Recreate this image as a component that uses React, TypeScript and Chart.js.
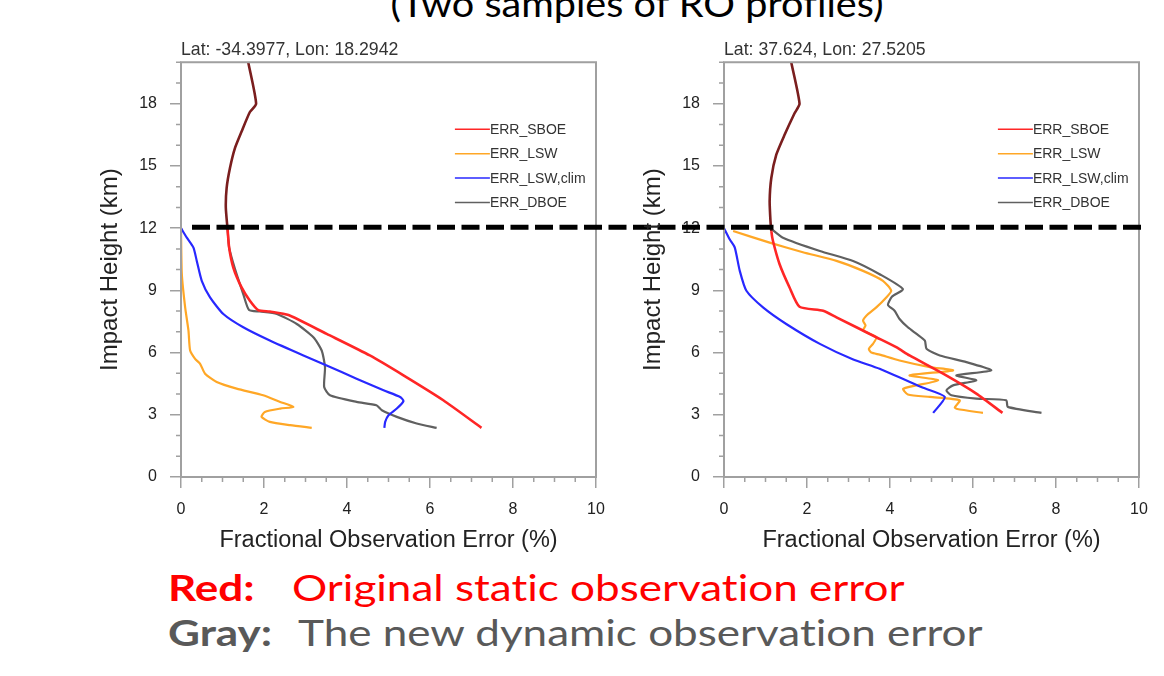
import { useEffect, useRef } from 'react';
import { Chart, registerables } from 'chart.js';

Chart.register(...registerables);

type P = [number, number];

// ---------- data ----------
const SERIES_LABELS = ['ERR_SBOE', 'ERR_LSW', 'ERR_LSW,clim', 'ERR_DBOE'];
const SERIES_COLORS = ['#ff2626', '#ffa726', '#2828ff', '#606060'];
const UPPER_COLOR = '#7a1e1e';
const PROFILE_TITLES = ['Lat: -34.3977, Lon: 18.2942', 'Lat: 37.624, Lon: 27.5205'];
const X_AXIS_TITLE = 'Fractional Observation Error (%)';
const Y_AXIS_TITLE = 'Impact Height (km)';
const X_MIN = 0, X_MAX = 10, X_MAJOR = 2, X_MINOR = 0.5;
const Y_MIN = 0, Y_MAX = 20, Y_MAJOR = 3, Y_MINOR = 1;
const THRESHOLD_KM = 12;

// left profile (Lat -34.3977)
const L_SBOE: P[] = [[1.62, 20], [1.81, 18], [1.66, 17.6], [1.46, 16.66], [1.30, 15.86], [1.18, 14.9], [1.10, 13.94], [1.08, 12.98], [1.12, 12.0], [1.16, 11.06], [1.26, 10.1], [1.46, 9.14], [1.66, 8.5], [1.86, 8.05], [2.14, 7.98], [2.59, 7.81], [3.51, 6.9], [4.55, 5.86], [5.36, 4.9], [6.32, 3.7], [7.24, 2.37]];
const L_LSW: P[] = [[0, 12], [0.02, 9.78], [0.10, 8.18], [0.18, 7.06], [0.22, 6.1], [0.34, 5.7], [0.46, 5.46], [0.58, 4.98], [0.86, 4.58], [1.34, 4.26], [1.98, 3.94], [2.39, 3.62], [2.71, 3.38], [2.39, 3.3], [2.02, 3.14], [1.94, 2.9], [2.14, 2.66], [2.63, 2.5], [3.15, 2.37]];
const L_CLIM: P[] = [[0, 12], [0.14, 11.54], [0.30, 11.06], [0.38, 10.42], [0.50, 9.46], [0.70, 8.66], [1.02, 7.86], [1.50, 7.22], [2.14, 6.58], [2.95, 5.86], [3.51, 5.38], [4.23, 4.74], [4.88, 4.18], [5.28, 3.86], [5.36, 3.66], [5.2, 3.3], [5.0, 2.98], [4.92, 2.66], [4.90, 2.37]];
const L_DBOE: P[] = [[1.12, 12.0], [1.16, 11.06], [1.26, 10.3], [1.34, 9.78], [1.50, 8.82], [1.64, 8.05], [1.90, 7.98], [2.31, 7.86], [2.79, 7.38], [3.19, 6.74], [3.39, 6.1], [3.47, 5.3], [3.45, 4.34], [3.59, 3.94], [4.23, 3.62], [4.71, 3.46], [4.84, 3.22], [5.2, 2.9], [5.68, 2.58], [6.16, 2.37]];

// right profile (Lat 37.624)
const R_SBOE: P[] = [[1.62, 20], [1.82, 18], [1.70, 17.54], [1.46, 16.5], [1.26, 15.54], [1.14, 14.42], [1.10, 13.3], [1.12, 12.34], [1.14, 11.86], [1.18, 11.38], [1.34, 10.26], [1.58, 9.14], [1.82, 8.21], [2.39, 8.02], [2.71, 7.7], [3.67, 6.74], [4.15, 6.26], [4.47, 5.86], [5.28, 4.98], [6.08, 4.02], [6.71, 3.09]];
const R_LSW: P[] = [[0.22, 11.86], [1.10, 11.3], [1.90, 10.84], [2.71, 10.42], [3.35, 9.94], [3.83, 9.46], [4.03, 8.98], [3.91, 8.66], [3.67, 8.18], [3.43, 7.78], [3.35, 7.54], [3.41, 7.3], [3.35, 7.06], [3.67, 6.74], [3.59, 6.42], [3.49, 6.18], [3.55, 6.0], [3.75, 5.9], [4.23, 5.62], [4.96, 5.30], [5.52, 5.14], [4.47, 4.90], [5.16, 4.66], [4.32, 4.26], [4.43, 3.98], [4.96, 3.86], [5.68, 3.70], [5.56, 3.35], [5.62, 3.28], [6.24, 3.09]];
const R_CLIM: P[] = [[0, 12], [0.14, 11.45], [0.26, 11.06], [0.38, 9.94], [0.54, 8.98], [0.94, 8.18], [1.50, 7.38], [2.31, 6.42], [3.1, 5.68], [3.75, 5.22], [4.8, 4.3], [5.32, 3.86], [5.04, 3.09]];
const R_DBOE: P[] = [[1.12, 12.0], [1.42, 11.54], [2.31, 10.9], [3.11, 10.42], [3.75, 9.78], [4.31, 9.06], [4.05, 8.7], [3.95, 8.3], [4.11, 8.02], [4.23, 7.62], [4.43, 7.22], [4.64, 6.9], [4.84, 6.58], [4.88, 6.18], [5.20, 5.86], [5.84, 5.54], [6.44, 5.14], [5.60, 4.9], [6.08, 4.66], [5.52, 4.42], [5.36, 4.18], [5.48, 3.94], [6.08, 3.78], [6.80, 3.70], [6.84, 3.38], [7.65, 3.09]];

const PAGE_TITLE = '(Two samples of RO profiles)';
const NOTE_RED = ['Red:', 'Original static observation error'];
const NOTE_GRAY = ['Gray:', 'The new dynamic observation error'];

// ---------- styling / layout ----------
const AXIS_COLOR = '#a0a0a0';
const FONT = '"Liberation Sans", Arial, sans-serif';
const CANVAS_TOP = 30;
const CANVAS_H = 527;
const Y_AXIS_W = 101;
const X_AXIS_H = 80;
const DASH = [18, 6.5];
const DASH_START = 192;
const DASH_SPLIT = 680;
const DASH_END = 1146;

const panels = [
  { left: 80, width: 620, padRight: 104, title: PROFILE_TITLES[0], series: [L_SBOE, L_LSW, L_CLIM, L_DBOE], dashFrom: DASH_START, dashTo: DASH_SPLIT },
  { left: 623, width: 541, padRight: 25, title: PROFILE_TITLES[1], series: [R_SBOE, R_LSW, R_CLIM, R_DBOE], dashFrom: DASH_SPLIT, dashTo: DASH_END },
];

const DRAW_ORDER = [0, 2, 1, 3]; // SBOE on top, DBOE at bottom

function makePlugins(pageLeft: number, dashFrom: number, dashTo: number) {
  const frame = {
    id: 'frameMinor',
    afterDatasetsDraw(chart: any) {
      const { ctx, chartArea: a, scales } = chart;
      const x = scales.x, y = scales.y;
      ctx.save();
      ctx.strokeStyle = AXIS_COLOR;
      ctx.lineWidth = 1.5;
      ctx.beginPath();
      for (let v = Y_MIN; v <= Y_MAX + 1e-9; v += Y_MINOR) {
        if (Math.abs(v % Y_MAJOR) < 1e-6) continue;
        const py = y.getPixelForValue(v);
        ctx.moveTo(a.left - 5, py);
        ctx.lineTo(a.left, py);
      }
      for (let v = X_MIN; v <= X_MAX + 1e-9; v += X_MINOR) {
        if (Math.abs(v % X_MAJOR) < 1e-6) continue;
        const px = x.getPixelForValue(v);
        ctx.moveTo(px, a.bottom);
        ctx.lineTo(px, a.bottom + 5);
      }
      ctx.stroke();
      ctx.lineWidth = 2;
      ctx.strokeRect(a.left, a.top, a.right - a.left, a.bottom - a.top);
      ctx.restore();
    },
  };
  const legend = {
    id: 'profileLegend',
    afterDraw(chart: any) {
      const { ctx, chartArea: a } = chart;
      const w = a.right - a.left;
      const x0 = a.left + w * 0.66;
      ctx.save();
      ctx.font = `14px ${FONT}`;
      ctx.textBaseline = 'middle';
      ctx.textAlign = 'left';
      SERIES_LABELS.forEach((lab, i) => {
        const yy = a.top + 67 + i * 24.4;
        ctx.strokeStyle = SERIES_COLORS[i];
        ctx.lineWidth = 1.5;
        ctx.beginPath();
        ctx.moveTo(x0, yy);
        ctx.lineTo(x0 + 35, yy);
        ctx.stroke();
        ctx.fillStyle = '#333';
        ctx.fillText(lab, x0 + 35, yy + 1);
      });
      ctx.restore();
    },
  };
  const threshold = {
    id: 'threshold',
    afterDraw(chart: any) {
      const { ctx, scales } = chart;
      const py = scales.y.getPixelForValue(THRESHOLD_KM) - 1;
      const period = DASH[0] + DASH[1];
      ctx.save();
      ctx.strokeStyle = '#000';
      ctx.lineWidth = 5;
      ctx.setLineDash(DASH);
      ctx.lineDashOffset = (dashFrom - DASH_START) % period;
      ctx.beginPath();
      ctx.moveTo(dashFrom - pageLeft, py);
      ctx.lineTo(dashTo - pageLeft, py);
      ctx.stroke();
      ctx.restore();
    },
  };
  return [frame, legend, threshold];
}

function Panel({ cfg }: { cfg: typeof panels[number] }) {
  const ref = useRef<HTMLCanvasElement>(null);
  useEffect(() => {
    if (!ref.current) return;
    const datasets = cfg.series.map((s, i) => ({
      label: SERIES_LABELS[i],
      data: s.map(([x, y]) => ({ x, y })),
      showLine: true,
      borderColor: SERIES_COLORS[i],
      backgroundColor: SERIES_COLORS[i],
      borderWidth: i === 0 ? 2.6 : 2.2,
      pointRadius: 0,
      tension: 0.2,
      order: DRAW_ORDER[i],
      segment: i === 0 ? { borderColor: (c: any) => (c.p1.parsed.y >= 11.8 ? UPPER_COLOR : undefined) } : undefined,
    }));
    const chart = new Chart(ref.current, {
      type: 'scatter',
      data: { datasets },
      options: {
        animation: false,
        responsive: true,
        maintainAspectRatio: false,
        layout: { padding: { left: 0, right: cfg.padRight, top: 0, bottom: 0 } },
        plugins: {
          legend: { display: false },
          tooltip: { enabled: false },
          title: {
            display: true,
            text: cfg.title,
            align: 'start',
            fullSize: false,
            color: '#333',
            font: { family: FONT, size: 17.7, weight: 'normal' },
            padding: { top: 9, bottom: 2 },
          },
        },
        scales: {
          x: {
            type: 'linear',
            min: X_MIN,
            max: X_MAX,
            afterFit: (s: any) => { s.height = X_AXIS_H; },
            ticks: { stepSize: X_MAJOR, includeBounds: false, color: '#222', font: { family: FONT, size: 16 }, padding: 12, maxRotation: 0 },
            grid: { display: true, drawOnChartArea: false, drawTicks: true, tickLength: 11, color: AXIS_COLOR, lineWidth: 1.5 },
            border: { display: false },
            title: { display: true, text: X_AXIS_TITLE, color: '#222', font: { family: FONT, size: 23.5 }, padding: { top: 0, bottom: 2 } },
          },
          y: {
            type: 'linear',
            min: Y_MIN,
            max: Y_MAX,
            afterFit: (s: any) => { s.width = Y_AXIS_W; },
            ticks: { stepSize: Y_MAJOR, includeBounds: false, color: '#222', font: { family: FONT, size: 16 }, padding: 13 },
            grid: { display: true, drawOnChartArea: false, drawTicks: true, tickLength: 11, color: AXIS_COLOR, lineWidth: 1.5 },
            border: { display: false },
            title: { display: true, text: Y_AXIS_TITLE, color: '#222', font: { family: FONT, size: 24 }, padding: { top: 16, bottom: 0 } },
          },
        },
      } as any,
      plugins: makePlugins(cfg.left, cfg.dashFrom, cfg.dashTo) as any,
    });
    return () => chart.destroy();
  }, [cfg]);
  return (
    <div style={{ position: 'absolute', left: cfg.left, top: CANVAS_TOP, width: cfg.width, height: CANVAS_H }}>
      <canvas ref={ref} />
    </div>
  );
}

const TEXT_FONT = 'Lato, "Open Sans", sans-serif';
const noteStyle = (left: number, top: number, color: string, bold: boolean) => ({
  position: 'absolute' as const,
  left,
  top,
  fontFamily: TEXT_FONT,
  fontSize: 37,
  lineHeight: 1.2,
  color,
  fontWeight: bold ? 'bold' : 'normal',
  whiteSpace: 'nowrap' as const,
  fontVariantLigatures: 'none' as const,
  transform: 'scaleX(1.19)',
  transformOrigin: 'left top',
});

export default function App() {
  return (
    <div style={{ position: 'fixed', left: 0, top: 0, width: 1164, height: 676, overflow: 'hidden', background: '#fff' }}>
      <div style={{ position: 'absolute', left: 337, width: 600, top: -18, textAlign: 'center', fontFamily: TEXT_FONT, fontSize: 36, lineHeight: 1.2, color: '#000', whiteSpace: 'nowrap', fontVariantLigatures: 'none', transform: 'scaleX(1.1)', transformOrigin: '300px 0' }}>
        {PAGE_TITLE}
      </div>
      {panels.map((p, i) => <Panel key={i} cfg={p} />)}
      <div style={noteStyle(168, 565, '#ff0000', true)}>{NOTE_RED[0]}</div>
      <div style={noteStyle(292, 565, '#ff0000', false)}>{NOTE_RED[1]}</div>
      <div style={noteStyle(168, 610, '#595959', true)}>{NOTE_GRAY[0]}</div>
      <div style={noteStyle(298, 610, '#595959', false)}>{NOTE_GRAY[1]}</div>
    </div>
  );
}
